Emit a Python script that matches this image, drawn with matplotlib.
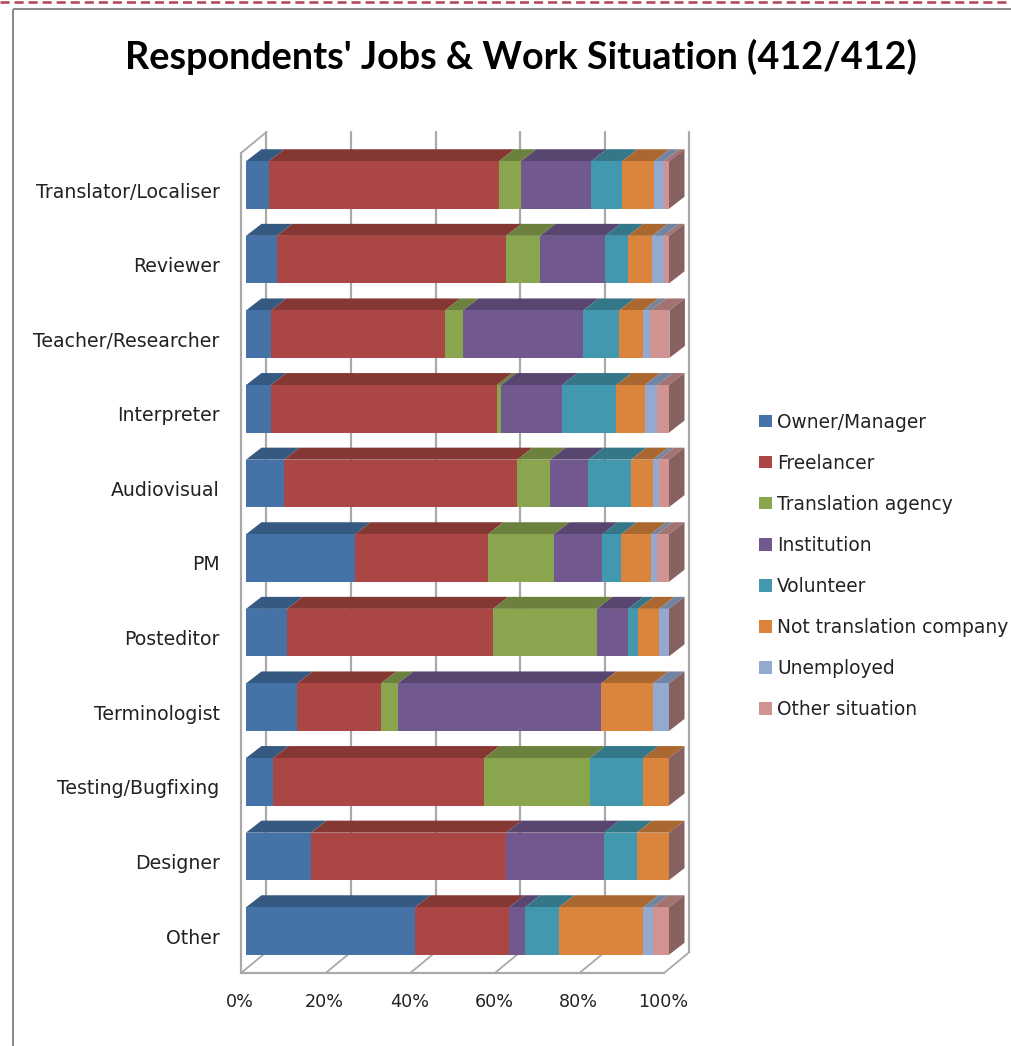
import matplotlib
matplotlib.use("Agg")
import matplotlib.pyplot as plt
from matplotlib.colors import to_rgb
from matplotlib.lines import Line2D
from matplotlib.patches import Patch, Polygon
from matplotlib.transforms import ScaledTranslation

jobs = ["Translator/Localiser", "Reviewer", "Teacher/Researcher", "Interpreter",
        "Audiovisual", "PM", "Posteditor", "Terminologist", "Testing/Bugfixing",
        "Designer", "Other"]

# Share of respondents per job, in percent
owner_manager = [5.4, 7.3, 5.9, 5.9, 9.0, 25.8, 9.7, 12.1, 6.4, 15.4, 40.0]
freelancer = [54.4, 54.2, 41.1, 53.4, 55.1, 31.4, 48.7, 19.8, 49.9, 46.1, 22.2]
translation_agency = [5.2, 8.0, 4.3, 1.0, 7.8, 15.6, 24.6, 4.0, 25.0, 0.0, 0.0]
institution = [16.6, 15.4, 28.4, 14.4, 9.0, 11.4, 7.3, 48.0, 0.0, 23.1, 3.7]
volunteer = [7.3, 5.4, 8.5, 12.8, 10.1, 4.5, 2.4, 0.0, 12.6, 7.8, 8.1]
not_translation_company = [7.6, 5.7, 5.7, 6.8, 5.2, 7.0, 4.9, 12.3, 6.1, 7.6, 19.9]
unemployed = [2.3, 2.8, 1.7, 2.9, 1.4, 1.5, 2.4, 3.8, 0.0, 0.0, 2.3]
other_situation = [1.2, 1.2, 4.5, 2.8, 2.4, 2.8, 0.0, 0.0, 0.0, 0.0, 3.8]

series_values = [owner_manager, freelancer, translation_agency, institution,
                 volunteer, not_translation_company, unemployed, other_situation]
series_names = ["Owner/Manager", "Freelancer", "Translation agency", "Institution",
                "Volunteer", "Not translation company", "Unemployed", "Other situation"]
series_colors = ["#4572a7", "#aa4643", "#89a54e", "#71588f",
                 "#4198af", "#db843d", "#93a9cf", "#d19392"]
x_ticks = [0, 20, 40, 60, 80, 100]

W, H = 1012, 1046
DPI = 100
PX = 72 / DPI

# Pixel layout of the front plane of the bars
LEFT, RIGHT = 246, 669
FIRST_CENTER, ROW_STEP = 185, 74.6
TOP = FIRST_CENTER - ROW_STEP / 2
BOTTOM = FIRST_CENTER + ROW_STEP * 10.5
BAR_H = 47.5 / ROW_STEP

UX = 100 / (RIGHT - LEFT)   # data units per pixel, horizontally
UY = 1 / ROW_STEP           # data units per pixel, vertically

# Extrusion of the bars and of the chart box
BAR_DX, BAR_DY = 15.5 * UX, 12 * UY
BOX_DX, BOX_DY = 25.5 * UX, 21 * UY

TEXT_FONT = "DejaVu Sans"
TEXT_COLOR = "#222222"
GRID = "#a9a9a9"
SIDE = "#876060"
LABEL_SIZE = 13.6
LEGEND_SIZE = 13.4

fig = plt.figure(figsize=(W / DPI, H / DPI), dpi=DPI, facecolor="white")
ax = fig.add_axes([LEFT / W, 1 - BOTTOM / H, (RIGHT - LEFT) / W, (BOTTOM - TOP) / H])
ax.set_xlim(0, 100)
ax.set_ylim(10.5, -0.5)
ax.patch.set_visible(False)
for spine in ax.spines.values():
    spine.set_visible(False)

# Chart box: back wall gridlines, floor and left wall
box_x0 = (241 - LEFT) * UX
box_y_front = (973 - FIRST_CENTER) * UY
box_y_top = (153 - FIRST_CENTER) * UY
box_lines = dict(color=GRID, clip_on=False, solid_capstyle="round", zorder=1)
for tick in x_ticks:
    x = box_x0 + tick
    ax.plot([x + BOX_DX, x + BOX_DX], [box_y_top - BOX_DY, box_y_front - BOX_DY],
            lw=2.2 * PX, **box_lines)
    ax.plot([x, x + BOX_DX], [box_y_front, box_y_front - BOX_DY], lw=1.8 * PX, **box_lines)
ax.plot([box_x0, box_x0], [box_y_top, box_y_front], lw=2.2 * PX, **box_lines)
ax.plot([box_x0, box_x0 + 100], [box_y_front, box_y_front], lw=2.2 * PX, **box_lines)
ax.plot([box_x0, box_x0 + BOX_DX], [box_y_top, box_y_top - BOX_DY], lw=1.8 * PX, **box_lines)

# Stacked bars with their darker top faces and the closing side face
rows = range(len(jobs))
lefts = [0.0] * len(jobs)
half = BAR_H / 2
for values, name, color in zip(series_values, series_names, series_colors):
    ax.barh(list(rows), values, height=BAR_H, left=lefts, color=color, zorder=4, label=name)
    top_color = tuple(c * 0.78 for c in to_rgb(color))
    for row, (start, width) in enumerate(zip(lefts, values)):
        if width > 0:
            ax.add_patch(Polygon(
                [(start, row - half), (start + width, row - half),
                 (start + width + BAR_DX, row - half - BAR_DY),
                 (start + BAR_DX, row - half - BAR_DY)],
                closed=True, facecolor=top_color, edgecolor="none",
                clip_on=False, zorder=3))
    lefts = [a + b for a, b in zip(lefts, values)]

for row, end in zip(rows, lefts):
    ax.add_patch(Polygon(
        [(end, row - half), (end + BAR_DX, row - half - BAR_DY),
         (end + BAR_DX, row + half - BAR_DY), (end, row + half)],
        closed=True, facecolor=SIDE, edgecolor="none", clip_on=False, zorder=4))

# Axis labels sit slightly off the bars' front plane
ax.set_yticks(list(rows), labels=jobs)
ax.set_xticks(x_ticks, labels=[f"{t}%" for t in x_ticks])
ax.tick_params(axis="both", length=0, labelcolor=TEXT_COLOR)
ax.tick_params(axis="y", pad=19, labelsize=LABEL_SIZE)
ax.tick_params(axis="x", pad=18, labelsize=12.6, bottom=False, top=False)
for label in ax.get_yticklabels():
    label.set_fontfamily(TEXT_FONT)
    label.set_transform(label.get_transform()
                        + ScaledTranslation(0, -5 / DPI, fig.dpi_scale_trans))
for label in ax.get_xticklabels():
    label.set_fontfamily(TEXT_FONT)
    label.set_transform(label.get_transform()
                        + ScaledTranslation(-6 / DPI, 0, fig.dpi_scale_trans))

fig.text(521 / W, 1 - 57 / H, "Respondents' Jobs & Work Situation (412/412)",
         ha="center", va="center", fontsize=27.2, fontweight="bold",
         fontfamily="Lato", color="#000000")

handles = [Patch(facecolor=c, edgecolor="none", label=n)
           for n, c in zip(series_names, series_colors)]
fig.legend(handles=handles, loc="upper left", bbox_to_anchor=(759 / W, 1 - 412.5 / H),
           frameon=False, prop={"family": TEXT_FONT, "size": LEGEND_SIZE},
           labelcolor=TEXT_COLOR, handlelength=0.68, handleheight=0.68,
           handletextpad=0.3, labelspacing=1.185, borderpad=0, borderaxespad=0)

# Outer frame and the dashed rule above it
frame = dict(color="#8c8c8c", lw=2 * PX, transform=fig.transFigure, solid_capstyle="butt")
fig.add_artist(Line2D([13 / W, 13 / W], [0, 1 - 9 / H], **frame))
fig.add_artist(Line2D([13 / W, 1], [1 - 9 / H, 1 - 9 / H], **frame))
fig.add_artist(Line2D([0, 1], [1 - 2 / H, 1 - 2 / H], color="#b4475a", lw=2.6 * PX,
                      linestyle=(0, (3.5, 1.9)), dash_capstyle="butt",
                      transform=fig.transFigure))

fig.savefig("out.png", dpi=DPI, facecolor="white")
